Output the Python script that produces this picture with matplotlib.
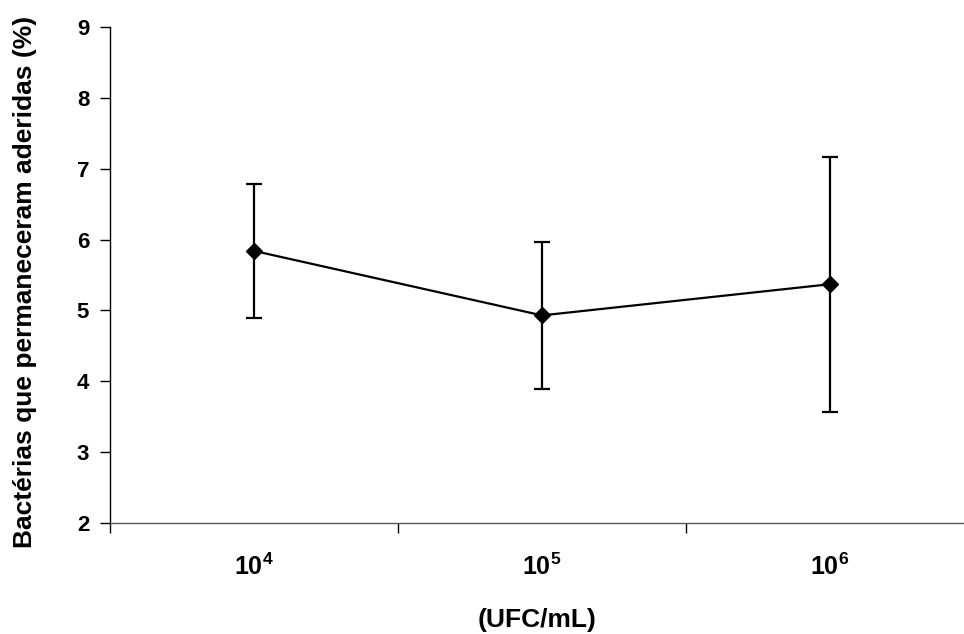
import matplotlib
matplotlib.use("Agg")
import matplotlib.pyplot as plt
import numpy as np

categories = [r"$\mathbf{10^{4}}$", r"$\mathbf{10^{5}}$", r"$\mathbf{10^{6}}$"]
means = [5.84, 4.93, 5.37]
errors = [0.95, 1.04, 1.80]
y_ticks = [2, 3, 4, 5, 6, 7, 8, 9]

plt.rcParams['font.family'] = ['Liberation Sans', 'DejaVu Sans']
plt.rcParams['mathtext.fontset'] = 'custom'
plt.rcParams['mathtext.bf'] = 'Liberation Sans:bold'
plt.rcParams['mathtext.rm'] = 'Liberation Sans:bold'

fig = plt.figure(figsize=(9.64, 6.34), dpi=100)
ax = fig.add_axes([110/964, 1-523/634, 864/964, 496/634])

x = np.arange(len(categories))
ax.errorbar(x, means, yerr=errors, color='black', lw=1.6, marker='D', ms=8,
            capsize=6, capthick=1.6, elinewidth=1.6, clip_on=False)

ax.set_xlim(-0.5, len(categories) - 0.5)
ax.set_ylim(2, 9)
ax.set_yticks(y_ticks)
ax.set_yticklabels([str(t) for t in y_ticks], fontsize=16, fontweight='bold')
ax.set_xticks(np.arange(len(categories) + 1) - 0.5)
ax.set_xticklabels([])
ax.set_xticks(x, minor=True)
ax.set_xticklabels(categories, minor=True, fontsize=18)
ax.tick_params(axis='x', which='minor', length=0, pad=22)
ax.tick_params(axis='x', which='major', direction='out', length=7, width=1)
ax.tick_params(axis='y', direction='out', length=7, width=1, pad=8)

for s in ['top', 'right']:
    ax.spines[s].set_visible(False)
ax.spines['left'].set_linewidth(1)
ax.spines['bottom'].set_linewidth(1)
ax.spines['bottom'].set_color('#555555')

ax.set_ylabel('Bactérias que permaneceram aderidas (%)', fontsize=19, fontweight='bold')
ax.yaxis.set_label_coords(-(110-25)/864, 0.486)
ax.yaxis.label.set_va('center')
ax.set_xlabel('(UFC/mL)', fontsize=19, fontweight='bold')
ax.xaxis.set_label_coords((537-110)/864, -(620-523)/496)
ax.xaxis.label.set_va('center')

fig.savefig('out.png', dpi=100)
